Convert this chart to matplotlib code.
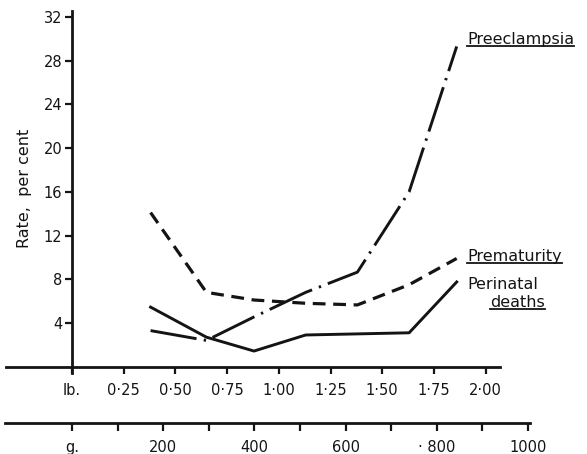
import matplotlib
matplotlib.use("Agg")
import matplotlib.pyplot as plt

LB_TO_G = 453.6

# birth-weight groups (lb) and rates per cent
weight_lb = [0.38, 0.65, 0.88, 1.13, 1.38, 1.63, 1.86]
preeclampsia = [3.3, 2.4, 4.55, 6.8, 8.65, 16.0, 29.3]
prematurity = [14.1, 6.8, 6.1, 5.8, 5.65, 7.5, 9.9]
perinatal_deaths = [5.45, 2.7, 1.43, 2.9, 3.0, 3.1, 7.75]

rate_ticks = [4, 8, 12, 16, 20, 24, 28, 32]
lb_ticks = [0, 0.25, 0.5, 0.75, 1.0, 1.25, 1.5, 1.75, 2.0]
lb_labels = ["lb.", "0·25", "0·50", "0·75", "1·00", "1·25", "1·50", "1·75", "2·00"]
g_ticks = [0, 100, 200, 300, 400, 500, 600, 700, 800, 900, 1000]
g_labels = ["g.", "", "200", "", "400", "", "600", "", "· 800", "", "1000"]

INK = "#141414"
plt.rcParams["font.family"] = "DejaVu Sans"

fig = plt.figure(figsize=(5.87, 4.54), dpi=100)
ax = fig.add_axes([0, 0, 1, 1])
ax.set_xlim(-0.348, 2.49)
ax.set_ylim(-7.99, 33.55)
ax.patch.set_alpha(0)

# ── curves ──────────────────────────────────────────────────
ax.plot(weight_lb, preeclampsia, color=INK, lw=2.1,
        linestyle=(0, (16, 2.5, 0.8, 2.5)), solid_capstyle="butt")
ax.plot(weight_lb, prematurity, color=INK, lw=2.3, linestyle=(0, (4, 2.4)))
ax.plot(weight_lb, perinatal_deaths, color=INK, lw=2.1)

# ── axes: rate (left), lb along y=0 ─────────────────────────
for s in ("top", "right"):
    ax.spines[s].set_visible(False)
ax.spines["left"].set_position(("data", 0))
ax.spines["left"].set_bounds(-0.6, 32.5)
ax.spines["bottom"].set_position(("data", 0))
ax.spines["bottom"].set_bounds(-0.32, 2.07)
for s in ("left", "bottom"):
    ax.spines[s].set_linewidth(2)
    ax.spines[s].set_color(INK)

ax.set_yticks(rate_ticks)
ax.set_xticks(lb_ticks, lb_labels)
ax.tick_params(axis="y", direction="out", length=5, width=1.6, pad=2,
               labelsize=10.5, colors=INK)
ax.tick_params(axis="x", direction="out", length=5, width=1.6, pad=7,
               labelsize=10.5, colors=INK)

ax.text(-0.228, 16.3, "Rate,  per cent", rotation=90, ha="center", va="center",
        fontsize=11.5, color=INK)

# ── grams scale below ───────────────────────────────────────
g_level = -5.15
loc = (g_level - ax.get_ylim()[0]) / (ax.get_ylim()[1] - ax.get_ylim()[0])
sec = ax.secondary_xaxis(loc, functions=(lambda x: x * LB_TO_G,
                                         lambda g: g / LB_TO_G))
sec.set_xticks(g_ticks, g_labels)
sec.spines["bottom"].set_bounds(-147, 1005)
sec.spines["bottom"].set_linewidth(2)
sec.spines["bottom"].set_color(INK)
sec.tick_params(direction="out", length=6, width=1.6, pad=6,
                labelsize=10.5, colors=INK)

# ── curve labels (underlined) ───────────────────────────────
labels = [
    (1.91, 29.9, "Preeclampsia", True),
    (1.91, 10.1, "Prematurity", True),
    (1.91, 7.5, "Perinatal", False),
    (2.02, 5.9, "deaths", True),
]
texts = []
for x, y, s, ul in labels:
    t = ax.text(x, y, s, ha="left", va="center", fontsize=11.5, color=INK)
    texts.append((t, ul))

fig.canvas.draw()
renderer = fig.canvas.get_renderer()
inv = ax.transData.inverted()
for t, ul in texts:
    if not ul:
        continue
    bb = t.get_window_extent(renderer)
    (x0, y0), (x1, _) = inv.transform([(bb.x0, bb.y0 + 1), (bb.x1, bb.y0)])
    ax.plot([x0, x1], [y0, y0], color=INK, lw=1.3, clip_on=False)

fig.savefig("out.png", dpi=100, facecolor="white")
